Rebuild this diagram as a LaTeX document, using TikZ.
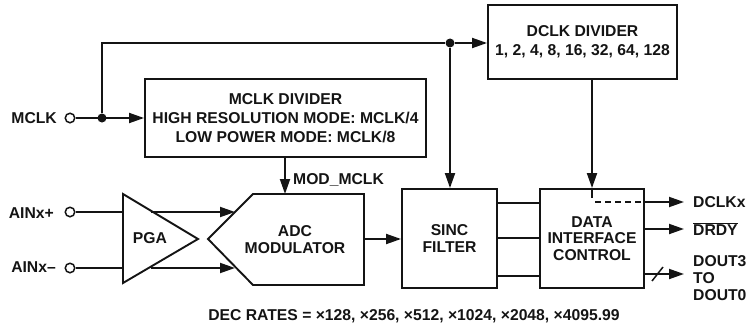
\documentclass[tikz,border=0pt]{standalone}
\usepackage{fontspec}
\setmainfont{Liberation Sans}
\usetikzlibrary{arrows.meta,positioning}
\definecolor{inkblack}{RGB}{20,20,20}

\begin{document}
\begin{tikzpicture}[
    x=1pt, y=-1pt,
    box/.style={rectangle, draw=inkblack, line width=1.9pt, align=center, inner sep=0pt, text=inkblack, font=\fontsize{15.7}{16.6}\selectfont\bfseries},
    widebox/.style={box, font=\fontsize{15.7}{19.3}\selectfont\bfseries},
    label/.style={inner sep=0pt, text=inkblack, font=\fontsize{15.7}{16.6}\selectfont\bfseries},
    arrow/.style={-{Triangle[length=15pt,width=10pt]}, line width=1.9pt, draw=inkblack},
    wire/.style={line width=1.9pt, draw=inkblack},
    pin/.style={circle, draw=inkblack, line width=1.5pt, fill=white, minimum size=9.5pt, inner sep=0pt},
    junction/.style={circle, fill=inkblack, minimum size=9pt, inner sep=0pt}
]
\useasboundingbox (0,0) rectangle (746,329);

% Blocks
\node[widebox, minimum width=281pt, minimum height=78pt] (mclkdiv) at (285.5,118) {MCLK DIVIDER\\HIGH RESOLUTION MODE: MCLK/4\\LOW POWER MODE: MCLK/8};
\node[widebox, minimum width=189pt, minimum height=74pt] (dclkdiv) at (582.5,42) {DCLK DIVIDER\\1, 2, 4, 8, 16, 32, 64, 128};
\node[box, minimum width=95pt, minimum height=99pt] (sinc) at (449.5,238.5) {SINC\\FILTER};
\node[box, minimum width=104pt, minimum height=99pt] (dataif) at (592,238.5) {DATA\\INTERFACE\\CONTROL};

% PGA and modulator
\draw[wire, line join=miter] (123,194) coordinate (pgatop) -- (198,239) coordinate (pgatip) -- (123,283) coordinate (pgabot) -- cycle;
\node[label] (pgatext) at (150,238) {PGA};
\draw[wire, line join=miter] (208,239) -- (253,194) -- (364,194) -- (364,285) -- (253,285) -- cycle;
\node[label, align=center] (adc) at (295,239.5) {ADC\\MODULATOR};
\coordinate (adcwest1) at (235,212);
\coordinate (adcwest2) at (235,268);
\coordinate (adceast) at (364,239);
\coordinate (adctop) at (285,194);

% Pins
\node[pin] (mclkpin) at (70,118) {};
\node[pin] (ainp) at (70,212) {};
\node[pin] (ainm) at (70,268) {};
\node[label, anchor=east] (mclklabel) at (57,118) {MCLK};
\node[label, anchor=east] (ainplabel) at (54,213) {AINx+};
\node[label, anchor=east] (ainmlabel) at (56,267) {AINx--};

% Junctions
\node[junction] (j1) at (102,118) {};
\node[junction] (j2) at (450,43) {};

% Connectors
\draw[arrow] (mclkpin) -- (mclkdiv.west);
\draw[wire] (j1) -- (102,43) -- (j2);
\draw[arrow] (j2) -- (dclkdiv.west |- j2);
\draw[arrow] (j2) -- (j2 |- sinc.north);
\draw[arrow] (mclkdiv.south -| adctop) -- (adctop);
\node[label, anchor=west] (modmclk) at (293,180) {MOD\_MCLK};
\draw[wire] (ainp) -- (123,212);
\draw[wire] (ainm) -- (123,268);
\draw[arrow] (151,212) -- (adcwest1);
\draw[arrow] (151,268) -- (adcwest2);
\draw[arrow] (adceast) -- (adceast -| sinc.west);
\draw[wire] (497,203) -- (540,203);
\draw[wire] (497,238) -- (540,238);
\draw[wire] (497,276) -- (540,276);
\draw[arrow] (dclkdiv.south -| dataif.north) -- (dataif.north);
\draw[wire] (dataif.north) -- (592,198);
\draw[wire, dash pattern=on 6pt off 4pt] (595,202) -- (644,202);

% Outputs
\coordinate (dclkend) at (684,202);
\coordinate (drdyend) at (684,229);
\coordinate (doutend) at (684,274);
\draw[arrow] (644,202) -- (dclkend);
\draw[arrow] (644,229) -- (drdyend);
\draw[arrow] (644,274) -- (doutend);
\draw[wire, line width=1.5pt] (652,281) -- (663,267);
\node[label, anchor=west] (dclkx) at (693,202) {DCLKx};
\node[label, anchor=west] (drdy) at (693,229) {$\overline{\hbox{DRDY}}$};
\node[label, anchor=west, align=left] (dout) at (693,278) {DOUT3\\TO\\DOUT0};

\node[label] (decrates) at (414,316) {DEC RATES = ×128, ×256, ×512, ×1024, ×2048, ×4095.99};

\end{tikzpicture}
\end{document}
